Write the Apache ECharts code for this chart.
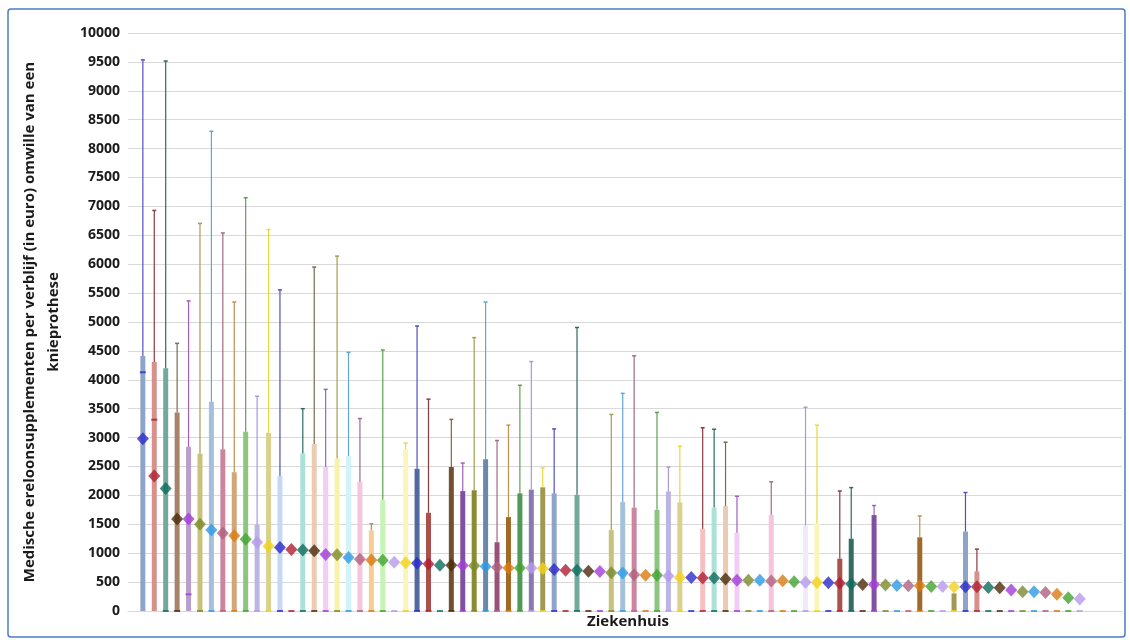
<!DOCTYPE html>
<html>
<head>
<meta charset="utf-8">
<script src="https://cdn.jsdelivr.net/npm/echarts@6/dist/echarts.min.js"></script>
<style>
html,body{margin:0;padding:0;background:#fff;}
#chart{width:1130px;height:640px;}
</style>
</head>
<body>
<div id="chart"></div>
<script>
// Ziekenhuizen (83, unnamed in the source)
const hospitals = [1,2,3,4,5,6,7,8,9,10,11,12,13,14,15,16,17,18,19,20,21,22,23,24,25,26,27,28,29,30,31,32,33,34,35,36,37,38,39,40,41,42,43,44,45,46,47,48,49,50,51,52,53,54,55,56,57,58,59,60,61,62,63,64,65,66,67,68,69,70,71,72,73,74,75,76,77,78,79,80,81,82,83];

// diamond marker (mean)
const meanValues = [
  2980,2335,2120,1592,1590,1499,1401,1344,1303,1240,
  1188,1120,1100,1065,1055,1044,978,975,925,894,
  882,880,842,836,826,814,790,790,788,782,
  770,757,745,744,742,736,718,705,703,686,
  684,660,656,626,620,618,604,580,578,572,
  570,552,534,532,530,518,525,508,496,494,
  490,478,466,460,460,450,440,438,436,426,
  425,416,420,418,408,402,362,334,332,322,
  290,230,208
];

// bar top
const barValues = [
  4410,4310,4200,3435,2840,2720,3620,2800,2400,3100,
  1490,3085,2330,0,2725,2890,2495,2640,2680,2230,
  1395,1925,0,2800,2460,1700,0,2490,2075,2090,
  2625,1190,1625,2035,2100,2140,2035,0,2010,0,
  0,1400,1885,1790,0,1750,2070,1880,0,1425,
  1790,1815,1355,0,0,1665,0,0,1480,1510,
  0,905,1250,0,1660,0,0,0,1275,0,
  0,305,1375,685,0,0,0,0,0,0,
  0,0,0
];

// whisker top ('-' = none)
const maxValues = [
  9535,6930,9515,4630,5365,6705,8300,6540,5345,7150,
  3715,6600,5555,'-',3500,5950,3835,6140,4475,3330,
  1510,4515,'-',2905,4930,3665,'-',3315,2560,4730,
  5345,2950,3215,3905,4315,2475,3150,'-',4905,'-',
  '-',3400,3765,4415,'-',3435,2490,2850,'-',3170,
  3145,2920,1985,'-','-',2235,'-','-',3525,3215,
  '-',2075,2135,'-',1825,'-','-','-',1645,'-',
  '-','-',2050,1070,'-','-','-','-','-','-',
  '-','-','-'
];

// small dash marker
const dashValues = [
  4130,3310,0,0,288,0,0,0,0,0,
  0,0,0,0,0,0,0,0,0,0,
  0,0,0,0,0,0,0,0,0,0,
  0,0,0,0,0,0,0,0,0,0,
  0,0,0,0,0,0,0,0,0,0,
  0,0,0,0,0,0,0,0,0,0,
  0,0,0,0,0,0,0,0,0,0,
  0,0,0,0,0,0,0,0,0,0,
  0,0,0
];

const yTicks = {min: 0, max: 10000, interval: 500};

const markerColors = ['#2A2ACB','#B01E32','#0C6B5C','#4A2A0A','#A23CD6','#7A8A2A','#2E9AE6','#B0607E','#D97A10','#43A331','#B79AEC','#F2D21C'];
const barColors = [
 '#8EA5C9','#D8918A','#71A99C','#A9826A','#BA9FCC','#C9C27A','#A3C1DA','#CC849F','#D3A677','#8CC57D','#BBB5E3','#D9D28F',
 '#C5D7F3','#F5C0C0','#AAE3D5','#EBCBB2','#F4CDF5','#F9F3A9','#D3F3FA','#F4C5DC','#F5CD95','#C5F5B5','#F1EBF9','#FAF6B9',
 '#5069A1','#A9514A','#326F62','#715131','#8151A1','#8B8B32','#6989A8','#995179','#A16929','#51995B','#8979B1','#A19951'
];
const whiskerColors = ['#5050C0','#8A3A40','#2E6A60','#7A6A50','#A060C0','#A0A050','#60A8D0','#A06A88','#C09050','#60A050','#A898D8','#E8D840'];

const chart = echarts.init(document.getElementById('chart'), null, {renderer: 'canvas'});

const barData = hospitals.map((h, i) => ({value: [i, barValues[i]], itemStyle: {color: barColors[i % 36]}}));
const whiskerData = hospitals.map((h, i) => [i, barValues[i], maxValues[i]]).filter(d => d[2] !== '-');
const dashData = hospitals.map((h, i) => ({value: [i, dashValues[i]], itemStyle: {color: markerColors[i % 12]}}));
const meanData = hospitals.map((h, i) => ({value: [i, meanValues[i]], itemStyle: {color: markerColors[i % 12]}}));

const option = {
  animation: false,
  backgroundColor: '#ffffff',
  textStyle: {fontFamily: 'Open Sans'},
  graphic: [{
    type: 'rect', silent: true, z: 100,
    shape: {x: 8, y: 9, width: 1117, height: 628, r: 3},
    style: {fill: 'none', stroke: '#4A7CCB', lineWidth: 1.5}
  }],
  grid: {left: 128, right: 8, top: 33, bottom: 29, containLabel: false},
  xAxis: {
    type: 'value', min: -1.3, max: 85.7,
    name: 'Ziekenhuis', nameLocation: 'middle', nameGap: 3,
    nameTextStyle: {fontFamily: 'Open Sans', fontWeight: 'bold', fontSize: 15, color: '#1a1a1a', padding: [0, 0, 0, 6]},
    axisLine: {show: true, lineStyle: {color: '#d9d9d9', width: 1}},
    axisTick: {show: false}, axisLabel: {show: false}, splitLine: {show: false}
  },
  yAxis: {
    type: 'value', min: yTicks.min, max: yTicks.max, interval: yTicks.interval,
    name: 'Medische ereloonsupplementen per verblijf (in euro) omwille van een\nknieprothese',
    nameLocation: 'middle', nameGap: 62,
    nameTextStyle: {fontFamily: 'Open Sans', fontWeight: 'bold', fontSize: 15, color: '#1a1a1a', lineHeight: 24, align: 'center'},
    axisLine: {show: false}, axisTick: {show: false},
    axisLabel: {fontFamily: 'Open Sans', fontWeight: 'bold', fontSize: 14, color: '#1a1a1a', margin: 8,
      formatter: function (v) { return String(v); }},
    splitLine: {lineStyle: {color: '#d9d9d9', width: 1}}
  },
  series: [
    {
      type: 'bar', data: barData, barWidth: 5, z: 2, silent: true
    },
    {
      type: 'custom', z: 3, silent: true,
      data: whiskerData,
      encode: {x: 0, y: [1, 2]},
      renderItem: function (params, api) {
        const i = api.value(0);
        const lo = api.coord([i, api.value(1)]);
        const hi = api.coord([i, api.value(2)]);
        const c = whiskerColors[i % 12];
        return {
          type: 'group',
          children: [
            {type: 'line', shape: {x1: hi[0], y1: lo[1], x2: hi[0], y2: hi[1]}, style: {stroke: c, lineWidth: 1.2}},
            {type: 'line', shape: {x1: hi[0] - 2, y1: hi[1], x2: hi[0] + 2, y2: hi[1]}, style: {stroke: c, lineWidth: 1.5}}
          ]
        };
      }
    },
    {
      type: 'scatter', data: dashData, symbol: 'rect', symbolSize: [6, 2], z: 4, silent: true
    },
    {
      type: 'scatter', data: meanData, symbol: 'diamond', symbolSize: [12, 13], z: 5, silent: true
    }
  ]
};
chart.setOption(option);
</script>
</body>
</html>
